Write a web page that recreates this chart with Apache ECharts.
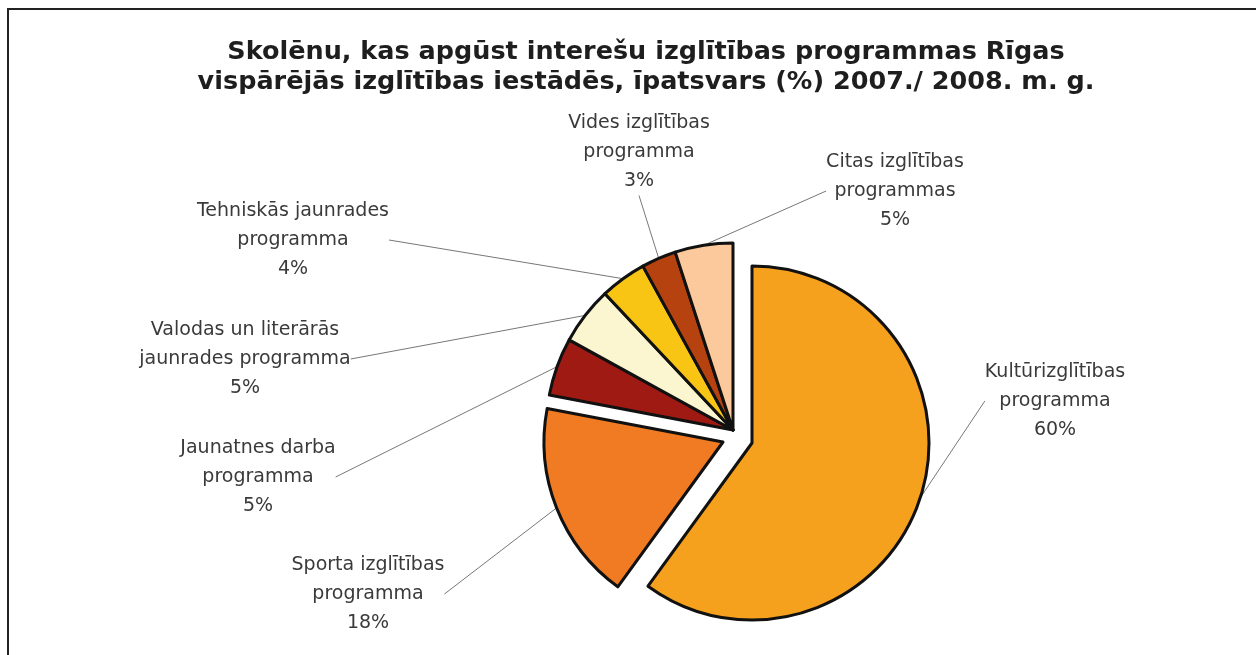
<!DOCTYPE html>
<html>
<head>
<meta charset="utf-8">
<script src="https://cdn.jsdelivr.net/npm/echarts@6/dist/echarts.min.js"></script>
<style>
  html, body { margin: 0; padding: 0; background: #fff; }
  #main { width: 1256px; height: 655px; }
</style>
</head>
<body>
<div id="main"></div>
<script>
// dati no attēla
var categories = [
    'Kultūrizglītības\nprogramma',
    'Sporta izglītības\nprogramma',
    'Jaunatnes darba\nprogramma',
    'Valodas un literārās\njaunrades programma',
    'Tehniskās jaunrades\nprogramma',
    'Vides izglītības\nprogramma',
    'Citas izglītības\nprogrammas'
];
var shares = [60, 18, 5, 5, 4, 3, 5];

// krāsas un izvietojums
var sliceColors = ['#f5a11d', '#f07b22', '#9f1a12', '#fbf5d0', '#f8c514', '#b5420f', '#fbc99b'];
var labelPos = [
    [1055, 401], [368, 594], [258, 477], [245, 359],
    [293, 240], [639, 152], [895, 191]
];
// izvirzītās daļas: [indeksi, centrs, rādiuss]
var groups = [
    { idx: [0], center: [752, 443], r: 177 },
    { idx: [1], center: [723, 442], r: 179 },
    { idx: [2, 3, 4, 5, 6], center: [733, 430], r: 187 }
];

function groupData(idx) {
    return categories.map(function (name, i) {
        var on = idx.indexOf(i) >= 0;
        return {
            name: name,
            value: shares[i],
            itemStyle: on ? { color: sliceColors[i] } : { color: 'rgba(0,0,0,0)', borderWidth: 0 },
            label: { show: on },
            labelLine: { show: on }
        };
    });
}

var series = groups.map(function (g) {
    return {
        type: 'pie',
        center: g.center,
        radius: [0, g.r],
        startAngle: 90,
        clockwise: true,
        avoidLabelOverlap: false,
        silent: true,
        emphasis: { disabled: true },
        itemStyle: { borderColor: '#111', borderWidth: 3 },
        label: {
            formatter: '{b}\n{c}%',
            fontFamily: 'DejaVu Sans',
            fontSize: 19,
            lineHeight: 29,
            color: '#3a3a3a',
            align: 'center'
        },
        labelLine: {
            length: 10,
            length2: 0,
            lineStyle: { color: '#777', width: 1 }
        },
        labelLayout: function (p) {
            var pos = labelPos[p.dataIndex];
            return { x: pos[0], y: pos[1], align: 'center', verticalAlign: 'middle' };
        },
        data: groupData(g.idx)
    };
});

var myChart = echarts.init(document.getElementById('main'));
var option = {
    animation: false,
    backgroundColor: '#fff',
    title: {
        text: 'Skolēnu, kas apgūst interešu izglītības programmas Rīgas\nvispārējās izglītības iestādēs, īpatsvars (%) 2007./ 2008. m. g.',
        left: 641,
        top: 32,
        textAlign: 'center',
        textStyle: {
            fontFamily: 'DejaVu Sans',
            fontWeight: 'bold',
            fontSize: 25.5,
            lineHeight: 30,
            color: '#1e1e1e'
        }
    },
    graphic: [{
        type: 'polyline',
        shape: { points: [[8, 655], [8, 9], [1256, 9]] },
        style: { stroke: '#222', lineWidth: 2, fill: null }
    }],
    series: series
};
myChart.setOption(option);
</script>
</body>
</html>
